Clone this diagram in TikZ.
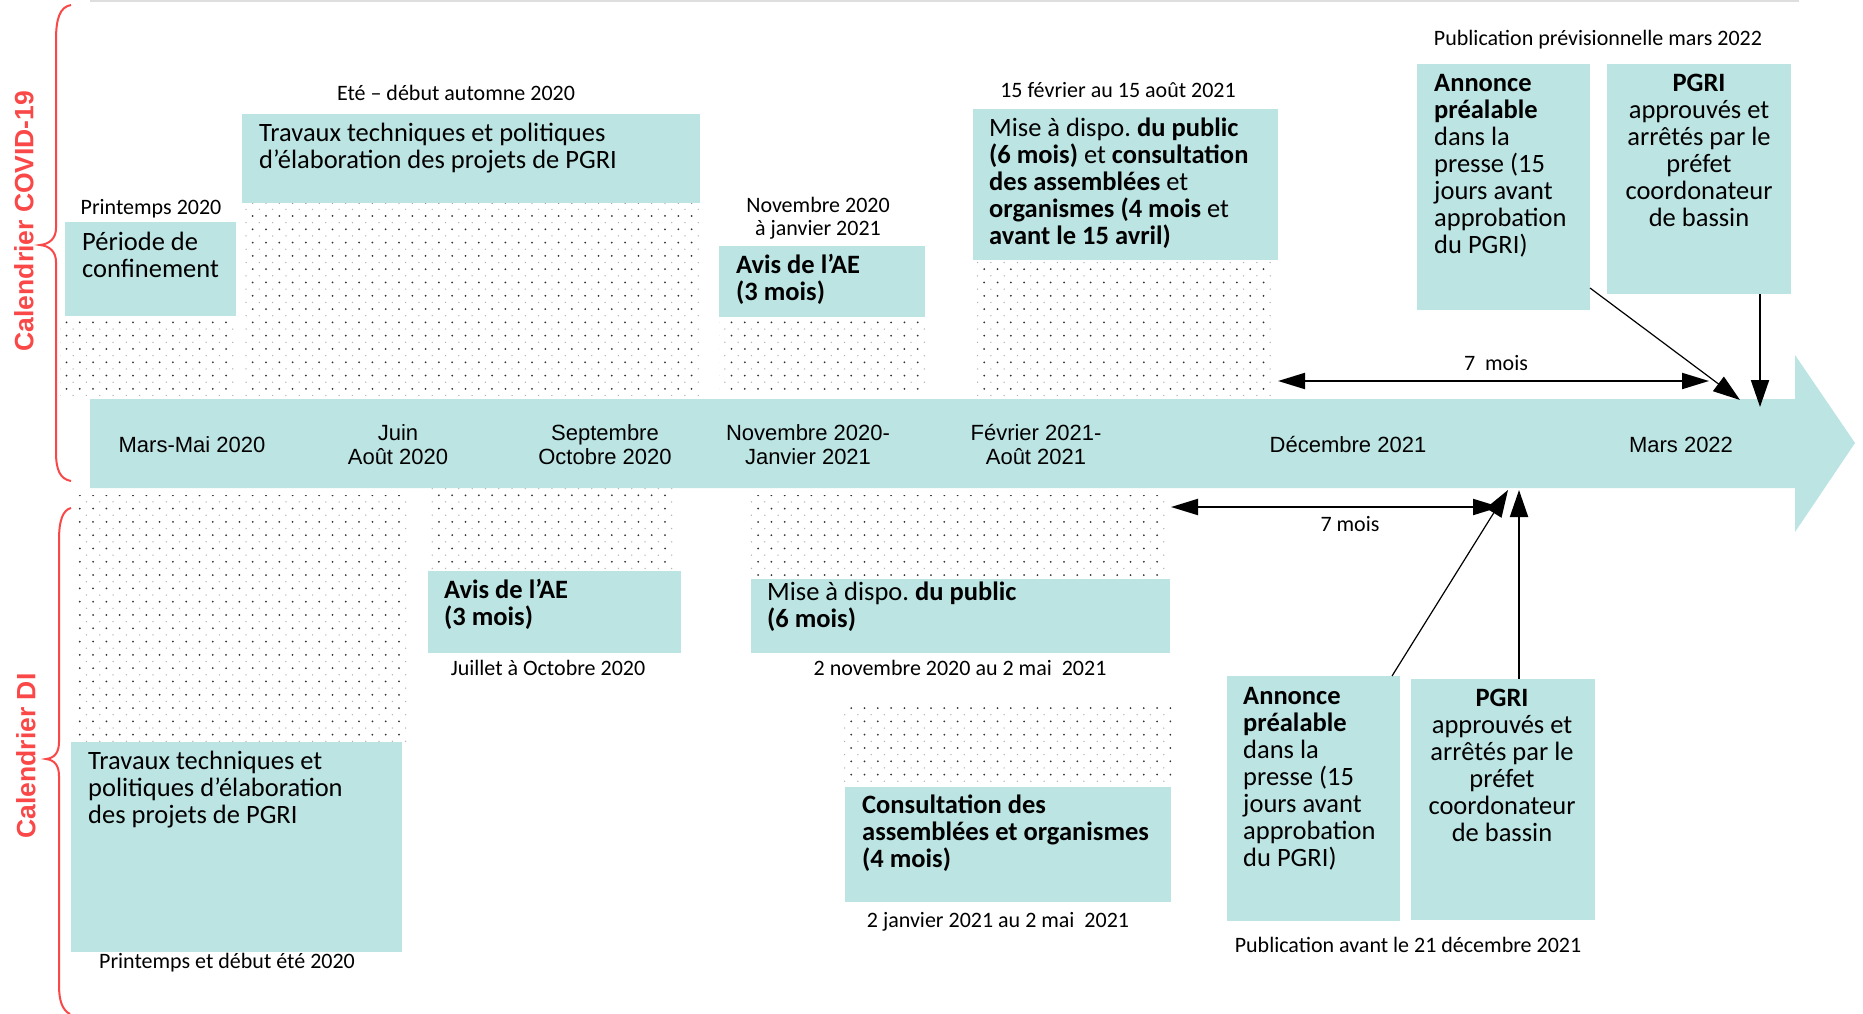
\documentclass[tikz,border=0pt]{standalone}
\usepackage{fontspec}
\setmainfont{Carlito}
\newfontfamily\arialf{Liberation Sans}
\usetikzlibrary{arrows.meta,patterns.meta,calc}
\definecolor{tealbg}{RGB}{188,228,227}
\definecolor{redc}{RGB}{250,72,72}
\definecolor{topline}{RGB}{222,222,222}
\newcommand\Lst[1]{\vtop{\lineskiplimit=-100pt\lineskip=0pt\halign{##\hfil\cr#1\crcr}}}
\newcommand\Cst[1]{\vtop{\lineskiplimit=-100pt\lineskip=0pt\halign{\hfil##\hfil\cr#1\crcr}}}
\frenchspacing
\begin{document}
\begin{tikzpicture}[x=1pt,y=-1pt,
  box/.style={fill=tealbg,inner sep=0pt,outer sep=0pt,anchor=north west},
  dotsa/.style={pattern={Dots[distance=13.3pt,radius=1pt]},pattern color=black!80},
  dotsb/.style={pattern={Dots[distance=13.3pt,radius=0.75pt,xshift=6.65pt,yshift=6.65pt]},pattern color=black!30},
  btxt/.style={inner sep=0pt,anchor=base west,font=\fontsize{26.5}{27}\selectfont},
  ctxt/.style={inner sep=0pt,anchor=base,font=\fontsize{26.5}{27}\selectfont},
  lab/.style={inner sep=0pt,font=\fontsize{22}{23}\selectfont},
  tl/.style={inner sep=0pt,anchor=base,font=\arialf\fontsize{22}{24}\selectfont},
  cal/.style={inner sep=0pt,text=redc,rotate=90,font=\arialf\bfseries\fontsize{26.5}{28}\selectfont},
  brace/.style={draw=redc,line width=2pt},
  arr/.style={-{Triangle[length=27pt,width=18pt]},line width=2pt},
  darr/.style={{Triangle[length=27pt,width=16pt]}-{Triangle[length=27pt,width=16pt]},line width=2pt},
]
\useasboundingbox (0,0) rectangle (1863,1014);
\fill[white] (0,0) rectangle (1863,1014);
\draw[topline,line width=2pt] (90,1) -- (1799,1);

% dotted regions
\foreach \ra/\rb in {{(60,317)}/{(236,395)},{(242,203)}/{(702,395)},{(719,318)}/{(925,390)},{(973,260)}/{(1275,395)},{(75,495)}/{(410,742)},{(430,488)}/{(675,570)},{(750,495)}/{(1169,578)},{(844,704)}/{(1171,785)}}{
  \path[dotsb] \ra rectangle \rb;
  \path[dotsa] \ra rectangle \rb;
}

% timeline
\fill[tealbg] (90,399) -- (1795,399) -- (1795,355) -- (1855,443) -- (1795,532) -- (1795,488) -- (90,488) -- cycle;
\node[tl] (t1) at (192,452) {Mars-Mai 2020};
\node[tl] (t2) at (398,440) {\Cst{Juin\cr Août 2020}};
\node[tl] (t3) at (605,440) {\Cst{Septembre\cr Octobre 2020}};
\node[tl] (t4) at (808,440) {\Cst{Novembre 2020-\cr Janvier 2021}};
\node[tl] (t5) at (1036,440) {\Cst{Février 2021-\cr Août 2021}};
\node[tl] (t6) at (1348,452) {Décembre 2021};
\node[tl] (t7) at (1681,452) {Mars 2022};

% braces
\draw[brace] (71,5) .. controls (60,7) and (56,18) .. (56,40) -- (56,228) .. controls (56,238) and (50,244) .. (40,245) .. controls (50,246) and (56,252) .. (56,262) -- (56,452) .. controls (56,470) and (60,479) .. (71,481);
\draw[brace] (71,508) .. controls (63,510) and (59,520) .. (59,540) -- (59,742) .. controls (59,752) and (55,758) .. (46,759) .. controls (55,760) and (59,766) .. (59,776) -- (59,985) .. controls (59,1000) and (62,1010) .. (70,1014);
\node[cal] (calC) at (24,221) {Calendrier COVID-19};
\node[cal] (calD) at (26,756) {Calendrier DI};

% COVID boxes
\node[box,minimum width=171pt,minimum height=94pt] (perT) at (65,222) {};
\node[box,minimum width=458pt,minimum height=89pt] (travT) at (242,114) {};
\node[box,minimum width=206pt,minimum height=71pt] (avisT) at (719,246) {};
\node[box,minimum width=305pt,minimum height=151pt] (miseT) at (973,109) {};
\node[box,minimum width=173pt,minimum height=246pt] (annT) at (1417,64) {};
\node[box,minimum width=184pt,minimum height=230pt] (pgriT) at (1607,64) {};

% DI boxes
\node[box,minimum width=331pt,minimum height=210pt] (travB) at (71,742) {};
\node[box,minimum width=253pt,minimum height=82pt] (avisB) at (428,571) {};
\node[box,minimum width=419pt,minimum height=74pt] (miseB) at (751,579) {};
\node[box,minimum width=326pt,minimum height=115pt] (consB) at (845,787) {};
\node[box,minimum width=173pt,minimum height=245pt] (annB) at (1227,676) {};
\node[box,minimum width=184pt,minimum height=241pt] (pgriB) at (1411,679) {};

% box texts COVID
\node[btxt] (perTx) at (82,250) {\Lst{Période de\cr confinement}};
\node[btxt] (travTx) at (259,142) {\Lst{Travaux techniques et politiques\cr d’élaboration des projets de PGRI}};
\node[btxt] (avisTx) at (736,273) {\Lst{\textbf{Avis de l’AE}\cr \textbf{(3 mois)}}};
\node[btxt] (miseTx) at (989,137) {\Lst{Mise à dispo. \textbf{du public}\cr \textbf{(6 mois)} et \textbf{consultation}\cr \textbf{des assemblées} et\cr \textbf{organismes (4 mois} et\cr \textbf{avant le 15 avril)}}};
\node[btxt] (annTx) at (1434,92) {\Lst{\textbf{Annonce}\cr \textbf{préalable}\cr dans la\cr presse (15\cr jours avant\cr approbation\cr du PGRI)}};
\node[ctxt] (pgriTx) at (1699,92) {\Cst{\textbf{PGRI}\cr approuvés et\cr arrêtés par le\cr préfet\cr coordonateur\cr de bassin}};

% box texts DI
\node[btxt] (travBx) at (88,769) {\Lst{Travaux techniques et\cr politiques d’élaboration\cr des projets de PGRI}};
\node[btxt] (avisBx) at (444,598) {\Lst{\textbf{Avis de l’AE}\cr \textbf{(3 mois)}}};
\node[btxt] (miseBx) at (767,600) {\Lst{Mise à dispo. \textbf{du public}\cr \textbf{(6 mois)}}};
\node[btxt] (consBx) at (862,813) {\Lst{\textbf{Consultation des}\cr \textbf{assemblées et organismes}\cr \textbf{(4 mois)}}};
\node[btxt] (annBx) at (1243,704) {\Lst{\textbf{Annonce}\cr \textbf{préalable}\cr dans la\cr presse (15\cr jours avant\cr approbation\cr du PGRI)}};
\node[ctxt] (pgriBx) at (1502,706) {\Cst{\textbf{PGRI}\cr approuvés et\cr arrêtés par le\cr préfet\cr coordonateur\cr de bassin}};

% labels
\node[lab] (l1) at (151,209) {Printemps 2020};
\node[lab] (l2) at (456,93) {Eté – début automne 2020};
\node[lab] (l3) at (818,218) {\Cst{Novembre 2020\cr à janvier 2021}};
\node[lab] (l4) at (1118,90) {15 février au 15 août 2021};
\node[lab] (l5) at (1598,40) {Publication prévisionnelle mars 2022};
\node[lab] (l6) at (1496,363) {7\ \ mois};
\node[lab] (l7) at (1350,524) {7 mois};
\node[lab] (l8) at (227,963) {Printemps et début été 2020};
\node[lab] (l9) at (548,668) {Juillet à Octobre 2020};
\node[lab] (l10) at (960,668) {2 novembre 2020 au 2 mai\ \ 2021};
\node[lab] (l11) at (998,922) {2 janvier 2021 au 2 mai\ \ 2021};
\node[lab] (l12) at (1408,945) {Publication avant le 21 décembre 2021};

% arrows top
\coordinate (tipTd) at (1740,400);
\coordinate (tipTv) at (1760,407);
\coordinate (m7Ta) at (1278,381);
\coordinate (m7Tb) at (1709,381);
\draw[arr,line width=1.2pt] ($(annT.south east)+(0,-22)$) -- (tipTd);
\draw[arr] (pgriT.south -| tipTv) -- (tipTv);
\draw[darr] (m7Ta) -- (m7Tb);

% arrows bottom
\coordinate (tipBd) at (1508,490);
\coordinate (tipBv) at (1519,490);
\coordinate (m7Ba) at (1171,507);
\coordinate (m7Bb) at (1500,507);
\draw[arr,line width=1.2pt] ($(annB.north east)+(-8,0)$) -- (tipBd);
\draw[arr] (pgriB.north -| tipBv) -- (tipBv);
\draw[darr] (m7Ba) -- (m7Bb);
\end{tikzpicture}
\end{document}
